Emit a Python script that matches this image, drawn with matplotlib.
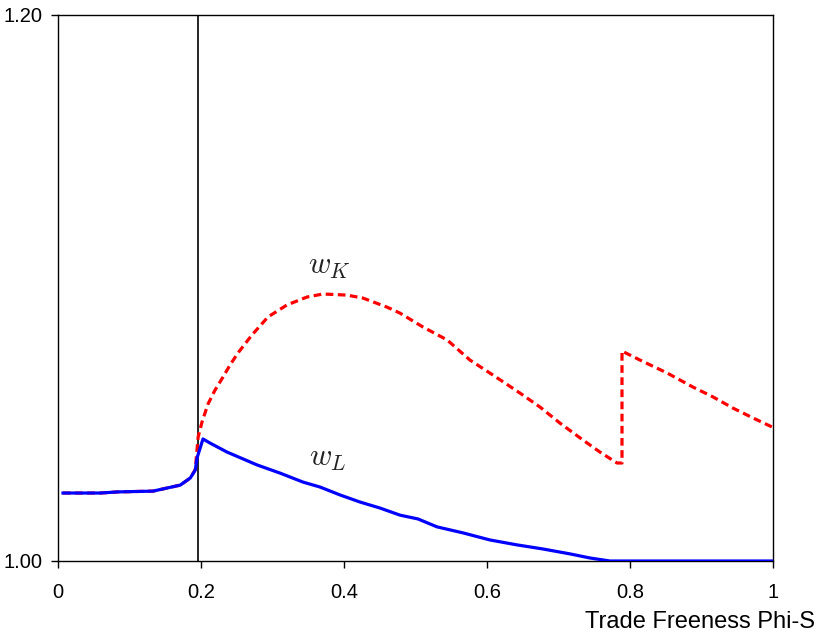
import matplotlib
matplotlib.use("Agg")
import matplotlib.pyplot as plt

plt.rcParams["font.family"] = ["Liberation Sans", "DejaVu Sans"]
plt.rcParams["mathtext.fontset"] = "cm"

# w_K (red dashed)
wk_x = [0.007, 0.059, 0.083, 0.133, 0.171, 0.185, 0.192, 0.196, 0.2014, 0.2098,
        0.2196, 0.2308, 0.2406, 0.2517, 0.2713, 0.2937, 0.3203, 0.3483, 0.3706,
        0.4042, 0.4266, 0.4601, 0.4783, 0.5105, 0.5441, 0.5762, 0.6084, 0.6462,
        0.6741, 0.7021, 0.7343, 0.7580, 0.7818, 0.7888, 0.7888, 0.8140, 0.8517,
        0.8881, 0.9161, 0.9441, 0.9720, 0.9986]
wk_y = [1.0249, 1.0249, 1.0253, 1.0256, 1.0278, 1.0304, 1.0335, 1.0454, 1.0509, 1.0575,
        1.0626, 1.0674, 1.0718, 1.0762, 1.0828, 1.0894, 1.0938, 1.0967, 1.0978,
        1.0974, 1.0963, 1.0930, 1.0908, 1.0857, 1.0810, 1.0736, 1.0681, 1.0615,
        1.0564, 1.0505, 1.0443, 1.0399, 1.0359, 1.0359, 1.0769, 1.0736, 1.0689,
        1.0637, 1.0601, 1.0560, 1.0524, 1.0491]

# w_L (blue solid)
wl_x = [0.007, 0.059, 0.083, 0.133, 0.171, 0.185, 0.192, 0.1944, 0.2028, 0.2126,
        0.2364, 0.2783, 0.3105, 0.3427, 0.3664, 0.3944, 0.4224, 0.4503, 0.4783,
        0.5035, 0.5301, 0.5664, 0.6042, 0.6420, 0.6783, 0.7161, 0.7441, 0.7720, 1.0]
wl_y = [1.0249, 1.0249, 1.0253, 1.0256, 1.0278, 1.0304, 1.0333, 1.0377, 1.0447, 1.0432,
        1.0399, 1.0352, 1.0322, 1.0289, 1.0271, 1.0242, 1.0216, 1.0194, 1.0168,
        1.0154, 1.0125, 1.0103, 1.0077, 1.0059, 1.0044, 1.0026, 1.0011, 1.0000, 1.0000]

threshold_x = 0.196

x_ticks = [0, 0.2, 0.4, 0.6, 0.8, 1]
x_tick_labels = ["0", "0.2", "0.4", "0.6", "0.8", "1"]
y_ticks = [1.00, 1.20]
y_tick_labels = ["1.00", "1.20"]

fig = plt.figure(figsize=(8.21, 6.37), dpi=100)
ax = fig.add_axes([58 / 821, 1 - 561 / 637, 715 / 821, 546 / 637])

ax.axvline(threshold_x, color="black", lw=1.2, zorder=1)
ax.plot(wk_x, wk_y, color="#ff0000", lw=2.3, ls=(0, (2.4, 1.4)), zorder=2)
ax.plot(wl_x, wl_y, color="#0000ff", lw=2.3, zorder=3)

ax.text(0.380, 1.108, r"$w_K$", fontsize=22, color="#222222", ha="center", va="center")
ax.text(0.378, 1.0377, r"$w_L$", fontsize=22, color="#222222", ha="center", va="center")

ax.set_xlim(0, 1)
ax.set_ylim(1.0, 1.2)
ax.set_xticks(x_ticks)
ax.set_xticklabels(x_tick_labels)
ax.set_yticks(y_ticks)
ax.set_yticklabels(y_tick_labels)
ax.tick_params(axis="x", direction="out", length=5, width=1, pad=11, labelsize=14.5)
ax.tick_params(axis="y", direction="out", length=5, width=1, pad=6, labelsize=14.5)
for spine in ax.spines.values():
    spine.set_linewidth(1.0)
    spine.set_color("black")

fig.text(815 / 821, 1 - 622 / 637, "Trade Freeness Phi-S", ha="right", va="center", fontsize=17)

fig.savefig("out.png", dpi=100)
